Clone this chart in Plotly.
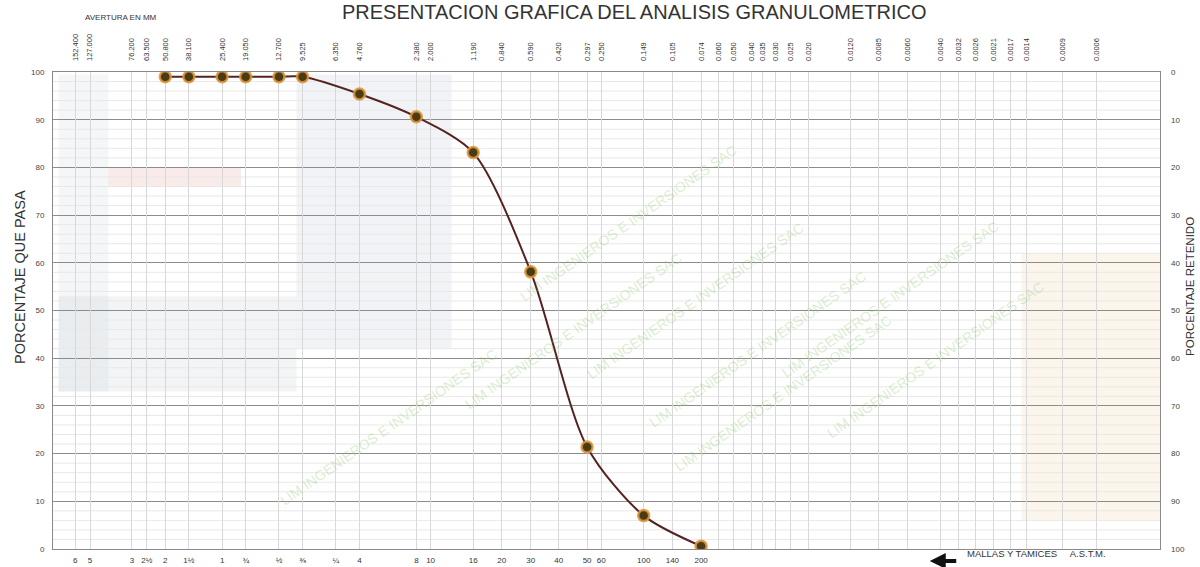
import plotly.graph_objects as go

# ---- data ----
sample_mm = [50.8, 38.1, 25.4, 19.05, 12.7, 9.525, 4.76, 2.38, 1.19, 0.59, 0.297, 0.149, 0.074]
percent_passing = [99.0, 99.0, 99.0, 99.0, 99.0, 99.0, 95.4, 90.6, 83.1, 58.1, 21.4, 7.0, 0.6]

sieve_mm = [152.4, 127.0, 76.2, 63.5, 50.8, 38.1, 25.4, 19.05, 12.7, 9.525, 6.35, 4.76,
            2.38, 2.0, 1.19, 0.84, 0.59, 0.42, 0.297, 0.25, 0.149, 0.105, 0.074]
sieve_labels = ["6", "5", "3", "2½", "2", "1½", "1", "¾", "½", "⅜", "¼", "4",
                "8", "10", "16", "20", "30", "40", "50", "60", "100", "140", "200"]

aperture_mm = [152.4, 127.0, 76.2, 63.5, 50.8, 38.1, 25.4, 19.05, 12.7, 9.525, 6.35, 4.76,
               2.38, 2.0, 1.19, 0.84, 0.59, 0.42, 0.297, 0.25, 0.149, 0.105, 0.074,
               0.060, 0.050, 0.040, 0.035, 0.030, 0.025, 0.020, 0.0120, 0.0085, 0.0060,
               0.0040, 0.0032, 0.0026, 0.0021, 0.0017, 0.0014, 0.0009, 0.0006]
aperture_labels = ["152.400", "127.000", "76.200", "63.500", "50.800", "38.100", "25.400",
                   "19.050", "12.700", "9.525", "6.350", "4.760", "2.380", "2.000", "1.190",
                   "0.840", "0.590", "0.420", "0.297", "0.250", "0.149", "0.105", "0.074",
                   "0.060", "0.050", "0.040", "0.035", "0.030", "0.025", "0.020", "0.0120",
                   "0.0085", "0.0060", "0.0040", "0.0032", "0.0026", "0.0021", "0.0017",
                   "0.0014", "0.0009", "0.0006"]

y_ticks = list(range(0, 101, 10))

LOG_RANGE = [2.30, -3.56]
FONT = "Liberation Sans, Arial, sans-serif"

fig = go.Figure()

# faint scan-like background patches (decoration)
patches = [
    (0.22, 0.36, 0.42, 0.995, "rgba(190,200,215,0.22)"),
    (0.005, 0.22, 0.33, 0.53, "rgba(190,198,212,0.20)"),
    (0.005, 0.05, 0.33, 0.995, "rgba(200,205,215,0.18)"),
    (0.875, 1.0, 0.06, 0.62, "rgba(240,215,180,0.25)"),
    (0.05, 0.17, 0.76, 0.80, "rgba(240,190,190,0.30)"),
]
for x0, x1, y0, y1, c in patches:
    fig.add_shape(type="rect", xref="paper", yref="paper", x0=x0, x1=x1, y0=y0, y1=y1,
                  fillcolor=c, line=dict(width=0), layer="below")

# minor horizontal grid
for v in range(0, 101, 2):
    if v % 10:
        fig.add_shape(type="line", xref="paper", yref="y", x0=0, x1=1, y0=v, y1=v,
                      line=dict(color="#e8e8e8", width=1), layer="below")

# invisible trace to activate secondary axes
fig.add_trace(go.Scatter(x=[aperture_mm[0]], y=[0], xaxis="x2", yaxis="y2",
                         mode="markers", marker=dict(opacity=0), showlegend=False,
                         hoverinfo="skip"))

fig.add_trace(go.Scatter(
    x=sample_mm, y=percent_passing, mode="lines+markers",
    line=dict(color="#552222", width=2, shape="spline", smoothing=0.8),
    marker=dict(size=11, color="#4a3a15", line=dict(color="rgba(222,150,55,0.85)", width=2.5)),
    showlegend=False,
))

fig.update_layout(
    width=1200, height=567,
    margin=dict(l=53, r=40, t=72, b=18),
    paper_bgcolor="white", plot_bgcolor="white",
    font=dict(family=FONT, color="#444"),
    xaxis=dict(type="log", range=LOG_RANGE, tickmode="array", tickvals=sieve_mm,
               ticktext=sieve_labels, showgrid=False, zeroline=False, ticks="",
               tickfont=dict(size=8, color="#333"), ticklabelstandoff=3, automargin=False,
               showline=True, linecolor="#8a8a8a", mirror=True),
    xaxis2=dict(type="log", range=LOG_RANGE, overlaying="x", side="top", tickmode="array",
                tickvals=aperture_mm, ticktext=aperture_labels, tickangle=-90,
                showgrid=True, gridcolor="#d8d8d8", gridwidth=1, ticks="", automargin=False,
                tickfont=dict(size=7.5, color="#333"), ticklabelstandoff=10, zeroline=False),
    yaxis=dict(range=[0, 100], tickvals=y_ticks, showgrid=True, gridcolor="#8c8c8c",
               gridwidth=1, zeroline=False, ticks="", tickfont=dict(size=8, color="#444"),
               ticklabelstandoff=6, automargin=False,
               showline=True, linecolor="#8a8a8a", mirror=True),
    yaxis2=dict(range=[100, 0], overlaying="y", side="right", tickvals=y_ticks,
                showgrid=False, zeroline=False, ticks="", tickfont=dict(size=8, color="#444"),
                ticklabelstandoff=10, automargin=False),
)

# watermark texts
wm = "LIM INGENIEROS E INVERSIONES SAC"
wm_pos = [(0.58, 0.52), (0.74, 0.42), (0.86, 0.70), (0.47, 0.28), (0.66, 0.15),
          (0.90, 0.22), (0.20, 0.08), (0.52, 0.86)]
for x, y in wm_pos:
    fig.add_annotation(text=wm, xref="paper", yref="paper", x=x, y=y, showarrow=False,
                       textangle=-35, font=dict(size=14, color="rgba(130,195,100,0.30)",
                                                family=FONT))

# titles
fig.add_annotation(text="PRESENTACION GRAFICA DEL ANALISIS GRANULOMETRICO",
                   xref="paper", yref="paper", x=0.525, y=1.125, yanchor="middle",
                   showarrow=False, font=dict(size=20, color="#333", family=FONT))
fig.add_annotation(text="AVERTURA EN MM", xref="paper", yref="paper", x=0.027, y=1.115,
                   xanchor="left", yanchor="middle", showarrow=False,
                   font=dict(size=8, color="#333", family=FONT))
fig.add_annotation(text="PORCENTAJE QUE PASA", xref="paper", yref="paper", x=-0.03, y=0.57,
                   xanchor="center", yanchor="middle", textangle=-90, showarrow=False,
                   font=dict(size=14.5, color="#333", family=FONT))
fig.add_annotation(text="PORCENTAJE RETENIDO", xref="paper", yref="paper", x=1.0265, y=0.55,
                   xanchor="center", yanchor="middle", textangle=-90, showarrow=False,
                   font=dict(size=11.5, color="#333", family=FONT))
fig.add_annotation(text="MALLAS Y TAMICES     A.S.T.M.", xref="paper", yref="paper",
                   x=0.824, y=-0.025, xanchor="left", showarrow=False,
                   font=dict(size=9.5, color="#333", family=FONT))
fig.add_annotation(text="", xref="paper", yref="paper", x=0.792, y=-0.025, ax=28, ay=0,
                   showarrow=True, arrowhead=2, arrowsize=0.8, arrowwidth=4, arrowcolor="#111")

fig.write_html("out.html", config={"displayModeBar": False},
               post_script="document.body.style.margin='0';document.body.style.padding='0';")
